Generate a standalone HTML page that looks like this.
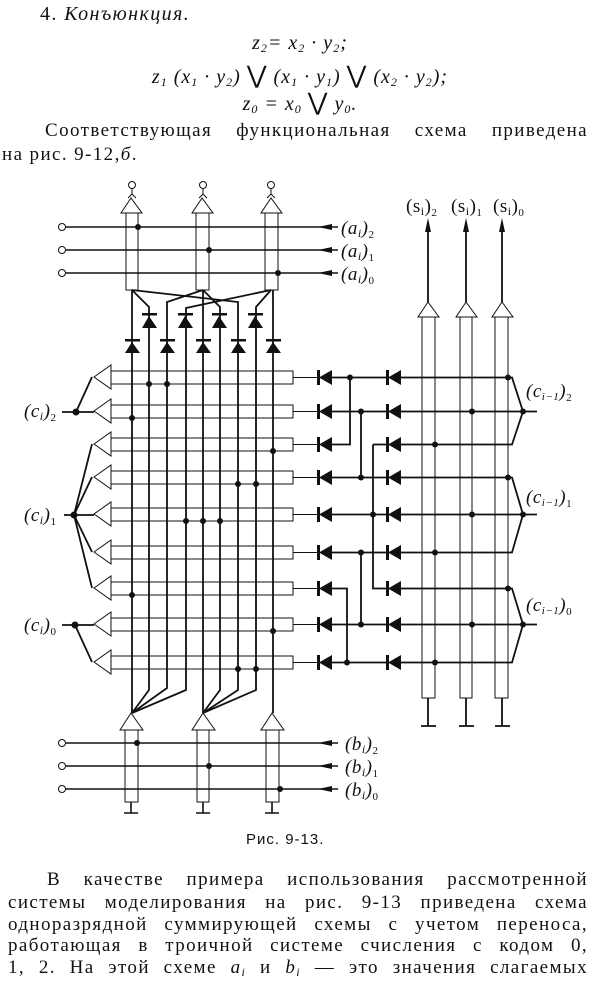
<!DOCTYPE html>
<html><head><meta charset="utf-8">
<style>
html,body{margin:0;padding:0;background:#fff;}
body{width:600px;height:991px;position:relative;overflow:hidden;font-family:"Liberation Serif",serif;color:#111;}
.t{position:absolute;white-space:nowrap;letter-spacing:1.4px;}
.j{position:absolute;text-align:justify;text-align-last:justify;font-size:19px;line-height:22px;white-space:normal;letter-spacing:1.4px;}
.f{position:absolute;left:0;width:600px;text-align:center;font-style:italic;font-size:20px;letter-spacing:1px;}
sub{font-size:12px;vertical-align:-3px;font-style:italic;}
svg{position:absolute;left:0;top:0;}
</style></head><body>
<div class="t" style="left:40px;top:3px;font-size:20px;">4. <i>Конъюнкция.</i></div>
<div class="f" style="top:32px;">z<sub>2</sub>= x<sub>2</sub> · y<sub>2</sub>;</div>
<div class="f" style="top:61px;">z<sub>1</sub> (x<sub>1</sub> · y<sub>2</sub>) <span style="font-style:normal;font-size:24px">⋁</span> (x<sub>1</sub> · y<sub>1</sub>) <span style="font-style:normal;font-size:24px">⋁</span> (x<sub>2</sub> · y<sub>2</sub>);</div>
<div class="f" style="top:88px;">z<sub>0</sub> = x<sub>0</sub> <span style="font-style:normal;font-size:24px">⋁</span> y<sub>0</sub>.</div>
<div class="j" style="left:45px;width:543px;top:120px;">Соответствующая функциональная схема приведена</div>
<div class="t" style="left:2px;top:144px;font-size:19px;">на рис. 9-12,<i>б</i>.</div>

<svg width="600" height="991" viewBox="0 0 600 991" font-family="Liberation Serif, serif">
<g stroke="#111" fill="none" stroke-width="1">
<g>
<circle cx="132" cy="185" r="3.5"/><path d="M132 189V194L128 198M132 194L136 198"/>
<polygon points="131,198 121,213 142,213" fill="#fff"/>
<path d="M126 213V290H138V213"/>
<circle cx="203" cy="185" r="3.5"/><path d="M203 189V194L199 198M203 194L207 198"/>
<polygon points="202,198 192,213 213,213" fill="#fff"/>
<path d="M196 213V290H209V213"/>
<circle cx="271" cy="185" r="3.5"/><path d="M271 189V194L267 198M271 194L275 198"/>
<polygon points="271,198 261,213 282,213" fill="#fff"/>
<path d="M265 213V290H278V213"/>
</g>
<g stroke-width="1.6">
<path d="M65 227H338M65 250H338M65 273H338"/>
</g>
<circle cx="62" cy="227" r="3.5"/><circle cx="62" cy="250" r="3.5"/><circle cx="62" cy="273" r="3.5"/>
<g fill="#111" stroke="none">
<polygon points="318,227 332,224 332,230"/><polygon points="318,250 332,247 332,253"/><polygon points="318,273 332,270 332,276"/>
<circle cx="138" cy="227" r="3"/><circle cx="209" cy="250" r="3"/><circle cx="278" cy="273" r="3"/>
</g>

<g stroke-width="1.8">
<path d="M132 290V713"/>
<path d="M132 290L149 307V690L132 713"/>
<path d="M203 290L167 302V688L132 713"/>
<path d="M271 290L186 308V690L132 713"/>
<path d="M203 290V713"/>
<path d="M203 290L220 307V690L203 713"/>
<path d="M132 290L238 302V690L203 713"/>
<path d="M271 290L256 307V690L203 713"/>
<path d="M273 290V713"/>
</g>
<g fill="#111" stroke="none">
<rect x="142" y="313" width="15" height="2.5"/><polygon points="149,316 142,328 157,328"/>
<rect x="178" y="313" width="15" height="2.5"/><polygon points="185,316 178,328 193,328"/>
<rect x="212" y="313" width="15" height="2.5"/><polygon points="219,316 212,328 227,328"/>
<rect x="248" y="313" width="15" height="2.5"/><polygon points="255,316 248,328 263,328"/>
<rect x="125" y="339" width="15" height="2.5"/><polygon points="132,342 125,353 140,353"/>
<rect x="160" y="339" width="15" height="2.5"/><polygon points="167,342 160,353 175,353"/>
<rect x="196" y="339" width="15" height="2.5"/><polygon points="203,342 196,353 211,353"/>
<rect x="231" y="339" width="15" height="2.5"/><polygon points="238,342 231,353 246,353"/>
<rect x="266" y="339" width="15" height="2.5"/><polygon points="273,342 266,353 281,353"/>
</g>

<g>
<path d="M111 371H293V384H111M293 377.5H318" />
<path d="M111 405H293V418H111M293 411.5H318" />
<path d="M111 438H293V451H111M293 444.5H318" />
<path d="M111 471H293V484H111M293 477.5H318" />
<path d="M111 508H293V521H111M293 514.5H318" />
<path d="M111 546H293V559H111M293 552.5H318" />
<path d="M111 582H293V595H111M293 588.5H318" />
<path d="M111 618H293V631H111M293 624.5H318" />
<path d="M111 656H293V669H111M293 662.5H318" />
</g>
<g fill="#fff">
<polygon points="94,377 111,365 111,389"/>
<polygon points="94,411 111,399 111,423"/>
<polygon points="94,444 111,432 111,456"/>
<polygon points="94,477 111,465 111,489"/>
<polygon points="94,514 111,502 111,526"/>
<polygon points="94,552 111,540 111,564"/>
<polygon points="94,588 111,576 111,600"/>
<polygon points="94,624 111,612 111,636"/>
<polygon points="94,662 111,650 111,674"/>
</g>
<g stroke-width="1.8">
<path d="M62 412H94M76 412L92 377"/>
<path d="M64 515H94M74 515L92 444M74 515L92 477M74 515L92 552M74 515L92 588"/>
<path d="M62 625H94M75 625L92 662"/>
</g>
<g fill="#111" stroke="none">
<circle cx="76" cy="412" r="3.5"/><circle cx="74" cy="515" r="3.5"/><circle cx="75" cy="625" r="3.5"/>
<circle cx="149" cy="384" r="3"/><circle cx="167" cy="384" r="3"/>
<circle cx="132" cy="418" r="3"/>
<circle cx="273" cy="451" r="3"/>
<circle cx="238" cy="484" r="3"/><circle cx="256" cy="484" r="3"/>
<circle cx="186" cy="521" r="3"/><circle cx="203" cy="521" r="3"/><circle cx="220" cy="521" r="3"/>
<circle cx="132" cy="595" r="3"/>
<circle cx="273" cy="631" r="3"/>
<circle cx="238" cy="669" r="3"/><circle cx="256" cy="669" r="3"/>
</g>

<g stroke-width="1.8">
<path d="M332 377.5H387M350 377.5V444.5H332"/>
<path d="M332 411.5H387M361 411.5V477.5"/>
<path d="M373 444.5H387M373 444.5V588.5H387"/>
<path d="M332 477.5H387"/>
<path d="M332 514.5H387"/>
<path d="M332 552.5H387M361 552.5V624.5"/>
<path d="M332 588.5H347V662.5"/>
<path d="M332 624.5H387"/>
<path d="M332 662.5H387"/>
<path d="M400 377.5H512L523 411.5L512 444.5H400M400 411.5H537"/>
<path d="M400 477.5H512L523 514.5L512 552.5H400M400 514.5H537"/>
<path d="M400 588.5H512L523 624.5L512 662.5H400M400 624.5H537"/>
</g>
<g fill="#111" stroke="none">
<g id="d">
<rect x="317" y="370" width="3" height="15"/><polygon points="319,377.5 332,370 332,385"/>
<rect x="386" y="370" width="3" height="15"/><polygon points="388,377.5 401,370 401,385"/>
</g>
<use href="#d" y="34"/><use href="#d" y="67"/><use href="#d" y="100"/><use href="#d" y="137"/>
<use href="#d" y="175"/><use href="#d" y="211"/><use href="#d" y="247"/><use href="#d" y="285"/>
<circle cx="350" cy="377.5" r="3"/><circle cx="361" cy="411.5" r="3"/><circle cx="361" cy="477.5" r="3"/>
<circle cx="373" cy="514.5" r="3"/><circle cx="361" cy="552.5" r="3"/><circle cx="361" cy="624.5" r="3"/>
<circle cx="347" cy="662.5" r="3"/>
<circle cx="508" cy="377.5" r="3"/><circle cx="472" cy="411.5" r="3"/><circle cx="435" cy="444.5" r="3"/>
<circle cx="508" cy="477.5" r="3"/><circle cx="472" cy="514.5" r="3"/><circle cx="435" cy="552.5" r="3"/>
<circle cx="508" cy="588.5" r="3"/><circle cx="472" cy="624.5" r="3"/><circle cx="435" cy="662.5" r="3"/>
<circle cx="523" cy="411.5" r="3"/><circle cx="523" cy="514.5" r="3"/><circle cx="523" cy="624.5" r="3"/>
</g>

<g>
<path d="M422 317V698H435V317M460 317V698H472V317M495 317V698H508V317"/>
<polygon points="428,302 418,317 439,317" fill="#fff"/>
<polygon points="466,302 456,317 477,317" fill="#fff"/>
<polygon points="502,302 492,317 513,317" fill="#fff"/>
<path stroke-width="1.8" d="M428 302V222M466 302V222M502 302V222"/>
<path stroke-width="1.8" d="M428 698V726M421 726H436M466 698V726M459 726H474M502 698V726M495 726H510"/>
</g>
<g fill="#111" stroke="none">
<polygon points="428,218 425,232 431,232"/><polygon points="466,218 463,232 469,232"/><polygon points="502,218 499,232 505,232"/>
</g>

<g>
<polygon points="131,713 120,730 143,730" fill="#fff"/>
<path d="M125 730V802H138V730"/>
<polygon points="203,713 192,730 215,730" fill="#fff"/>
<path d="M197 730V802H209V730"/>
<polygon points="272,713 261,730 284,730" fill="#fff"/>
<path d="M266 730V802H279V730"/>
<path stroke-width="1.6" d="M131 802V813M124 813H138M203 802V813M196 813H210M272 802V813M265 813H279"/>
<path stroke-width="1.6" d="M65 743H338M65 766H338M65 789H338"/>
<circle cx="62" cy="743" r="3.5"/><circle cx="62" cy="766" r="3.5"/><circle cx="62" cy="789" r="3.5"/>
</g>
<g fill="#111" stroke="none">
<polygon points="318,743 332,740 332,746"/><polygon points="318,766 332,763 332,769"/><polygon points="318,789 332,786 332,792"/>
<circle cx="137" cy="743" r="3"/><circle cx="209" cy="766" r="3"/><circle cx="280" cy="789" r="3"/>
</g>
</g>

<g fill="#111" font-size="19" font-style="italic" letter-spacing="0.5">
<text x="341" y="234">(a<tspan font-size="12" dy="3">i</tspan><tspan dy="-3">)</tspan><tspan font-size="11" font-style="normal" dy="4">2</tspan></text>
<text x="341" y="257">(a<tspan font-size="12" dy="3">i</tspan><tspan dy="-3">)</tspan><tspan font-size="11" font-style="normal" dy="4">1</tspan></text>
<text x="341" y="280">(a<tspan font-size="12" dy="3">i</tspan><tspan dy="-3">)</tspan><tspan font-size="11" font-style="normal" dy="4">0</tspan></text>
<text x="345" y="750">(b<tspan font-size="12" dy="3">i</tspan><tspan dy="-3">)</tspan><tspan font-size="11" font-style="normal" dy="4">2</tspan></text>
<text x="345" y="773">(b<tspan font-size="12" dy="3">i</tspan><tspan dy="-3">)</tspan><tspan font-size="11" font-style="normal" dy="4">1</tspan></text>
<text x="345" y="796">(b<tspan font-size="12" dy="3">i</tspan><tspan dy="-3">)</tspan><tspan font-size="11" font-style="normal" dy="4">0</tspan></text>
<text x="406" y="212" font-style="normal">(s<tspan font-size="12" dy="3">i</tspan><tspan dy="-3">)</tspan><tspan font-size="11" dy="4">2</tspan></text>
<text x="451" y="212" font-style="normal">(s<tspan font-size="12" dy="3">i</tspan><tspan dy="-3">)</tspan><tspan font-size="11" dy="4">1</tspan></text>
<text x="493" y="212" font-style="normal">(s<tspan font-size="12" dy="3">i</tspan><tspan dy="-3">)</tspan><tspan font-size="11" dy="4">0</tspan></text>
<text x="24" y="417">(c<tspan font-size="12" dy="3">i</tspan><tspan dy="-3">)</tspan><tspan font-size="11" font-style="normal" dy="4">2</tspan></text>
<text x="24" y="521">(c<tspan font-size="12" dy="3">i</tspan><tspan dy="-3">)</tspan><tspan font-size="11" font-style="normal" dy="4">1</tspan></text>
<text x="24" y="631">(c<tspan font-size="12" dy="3">i</tspan><tspan dy="-3">)</tspan><tspan font-size="11" font-style="normal" dy="4">0</tspan></text>
<text x="526" y="397">(c<tspan font-size="11" dy="3">i−1</tspan><tspan dy="-3">)</tspan><tspan font-size="11" font-style="normal" dy="4">2</tspan></text>
<text x="526" y="503">(c<tspan font-size="11" dy="3">i−1</tspan><tspan dy="-3">)</tspan><tspan font-size="11" font-style="normal" dy="4">1</tspan></text>
<text x="526" y="611">(c<tspan font-size="11" dy="3">i−1</tspan><tspan dy="-3">)</tspan><tspan font-size="11" font-style="normal" dy="4">0</tspan></text>
</g>
<text x="246" y="844" font-family="Liberation Sans, sans-serif" font-size="15" letter-spacing="1" fill="#111">Рис. 9-13.</text>
</svg>

<div class="j" style="left:47px;width:541px;top:869px;">В качестве примера использования рассмотренной</div>
<div class="j" style="left:8px;width:580px;top:892px;">системы моделирования на рис. 9-13 приведена схема</div>
<div class="j" style="left:8px;width:580px;top:914px;">одноразрядной суммирующей схемы с учетом переноса,</div>
<div class="j" style="left:8px;width:580px;top:935px;">работающая в троичной системе счисления с кодом 0,</div>
<div class="j" style="left:8px;width:580px;top:957px;">1, 2. На этой схеме <i>a<sub>i</sub></i> и <i>b<sub>i</sub></i> — это значения слагаемых</div>
</body></html>
